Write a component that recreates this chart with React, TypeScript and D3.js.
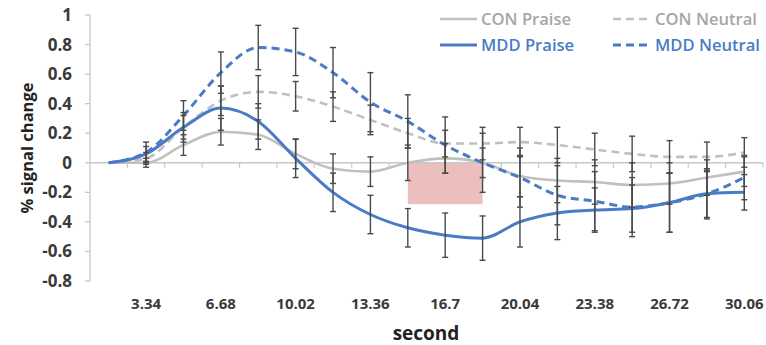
import { useEffect } from 'react';
import * as d3 from 'd3';

// ─── Data ───────────────────────────────────────────────────

const seconds = [1.67, 3.34, 5.01, 6.68, 8.35, 10.02, 11.69, 13.36, 15.03, 16.7, 18.37, 20.04, 21.71, 23.38, 25.05, 26.72, 28.39, 30.06];
const tickLabels = ['3.34', '6.68', '10.02', '13.36', '16.7', '20.04', '23.38', '26.72', '30.06'];
const yTicks = [1, 0.8, 0.6, 0.4, 0.2, 0, -0.2, -0.4, -0.6, -0.8];

const conPraise = [0, 0.0, 0.12, 0.21, 0.19, 0.06, -0.04, -0.06, 0.0, 0.03, 0.0, -0.09, -0.12, -0.13, -0.15, -0.14, -0.1, -0.06];
const conPraiseErr = [0, 0.03, 0.07, 0.09, 0.1, 0.1, 0.1, 0.1, 0.12, 0.1, 0.1, 0.14, 0.15, 0.15, 0.15, 0.14, 0.12, 0.1];

const conNeutral = [0, 0.03, 0.24, 0.42, 0.48, 0.45, 0.38, 0.29, 0.2, 0.13, 0.13, 0.14, 0.12, 0.09, 0.06, 0.04, 0.04, 0.07];
const conNeutralErr = [0, 0.04, 0.08, 0.1, 0.11, 0.1, 0.1, 0.1, 0.1, 0.09, 0.11, 0.1, 0.12, 0.11, 0.12, 0.11, 0.1, 0.1];

const mddPraise = [0, 0.06, 0.24, 0.37, 0.28, 0.03, -0.2, -0.35, -0.44, -0.49, -0.51, -0.4, -0.34, -0.32, -0.31, -0.27, -0.21, -0.2];
const mddPraiseErr = [0, 0.05, 0.1, 0.15, 0.12, 0.13, 0.13, 0.13, 0.13, 0.15, 0.15, 0.17, 0.18, 0.15, 0.16, 0.2, 0.16, 0.12];

const mddNeutral = [0, 0.07, 0.32, 0.61, 0.78, 0.75, 0.61, 0.41, 0.28, 0.12, 0.0, -0.1, -0.22, -0.26, -0.3, -0.27, -0.21, -0.1];
const mddNeutralErr = [0, 0.07, 0.1, 0.14, 0.15, 0.16, 0.17, 0.2, 0.18, 0.19, 0.2, 0.2, 0.2, 0.2, 0.2, 0.2, 0.17, 0.15];

// highlighted window (category range + value range)
const shadeFrom = 15.03;
const shadeTo = 18.37;
const shadeLow = -0.28;

// ─── Style ──────────────────────────────────────────────────

const GRAY = '#c0c0c0';
const BLUE = '#4a7cc6';
const ERR = '#4a4a4a';
const FONT = '"Open Sans", "DejaVu Sans", sans-serif';

const series = [
  { name: 'CON Praise', values: conPraise, err: conPraiseErr, color: GRAY, dash: null, text: '#a6a6a6', width: 2.6 },
  { name: 'CON Neutral', values: conNeutral, err: conNeutralErr, color: GRAY, dash: '8 5', text: '#a6a6a6', width: 2.6 },
  { name: 'MDD Praise', values: mddPraise, err: mddPraiseErr, color: BLUE, dash: null, text: BLUE, width: 3 },
  { name: 'MDD Neutral', values: mddNeutral, err: mddNeutralErr, color: BLUE, dash: '8 5', text: BLUE, width: 3 },
];

export default function App() {
  useEffect(() => {
    document.body.style.margin = '0';
  }, []);

  const W = 766;
  const H = 345;

  const x = d3.scaleBand<number>().domain(seconds).range([90, 763]);
  const y = d3.scaleLinear().domain([-0.8, 1]).range([281, 15]);
  const cx = (s: number) => (x(s) ?? 0) + x.bandwidth() / 2;

  const line = d3.line<number>()
    .x((_, i) => cx(seconds[i]))
    .y((d) => y(d))
    .curve(d3.curveMonotoneX);

  const boundaries = seconds.map((s) => (x(s) ?? 0) + x.bandwidth());

  return (
    <svg width={W} height={H} style={{ display: 'block', background: '#fff' }} fontFamily={FONT}>
      {/* shaded window */}
      <rect
        x={cx(shadeFrom)}
        y={y(0)}
        width={cx(shadeTo) - cx(shadeFrom)}
        height={y(shadeLow) - y(0)}
        fill="#e9b3b3"
        opacity={0.85}
      />

      {/* y axis */}
      <line x1={90} x2={90} y1={y(1)} y2={y(-0.8)} stroke="#c8c8c8" strokeWidth={1.3} />
      {yTicks.map((t) => (
        <g key={t}>
          <line x1={85} x2={90} y1={y(t)} y2={y(t)} stroke="#c8c8c8" strokeWidth={1.3} />
          <text x={72} y={y(t)} dy="0.35em" textAnchor="end" fontSize={17} fontWeight={700} fill="#3a3a3a">
            {t === 0 || t === 1 ? String(t) : t.toFixed(1)}
          </text>
        </g>
      ))}

      {/* x axis along zero */}
      <line x1={90} x2={763} y1={y(0)} y2={y(0)} stroke="#c8c8c8" strokeWidth={1.5} />
      {boundaries.map((b, i) => (
        <line key={i} x1={b} x2={b} y1={y(0)} y2={y(0) + 5} stroke="#c8c8c8" strokeWidth={1.2} />
      ))}
      {tickLabels.map((l) => (
        <text key={l} x={cx(+l)} y={309} textAnchor="middle" fontSize={15} fontWeight={700} fill="#3a3a3a">
          {l}
        </text>
      ))}

      {/* lines */}
      {series.map((s) => (
        <path
          key={s.name}
          d={line(s.values) ?? ''}
          fill="none"
          stroke={s.color}
          strokeWidth={s.width}
          strokeDasharray={s.dash ?? undefined}
        />
      ))}

      {/* error bars */}
      {series.map((s) => (
        <g key={s.name + '-err'} stroke={ERR} strokeWidth={1.4}>
          {s.values.map((v, i) => {
            const e = s.err[i];
            if (!e) return null;
            const px = cx(seconds[i]);
            const top = y(v + e);
            const bot = y(v - e);
            return (
              <g key={i}>
                <line x1={px} x2={px} y1={top} y2={bot} />
                <line x1={px - 3} x2={px + 3} y1={top} y2={top} />
                <line x1={px - 3} x2={px + 3} y1={bot} y2={bot} />
              </g>
            );
          })}
        </g>
      ))}

      {/* legend */}
      {series.map((s, i) => {
        const col = i % 2;
        const row = Math.floor(i / 2);
        const lx = col === 0 ? 440 : 613;
        const ly = row === 0 ? 19 : 45;
        const tx = col === 0 ? 481 : 655;
        return (
          <g key={s.name + '-leg'}>
            <line
              x1={lx}
              x2={lx + (col === 0 ? 37 : 34)}
              y1={ly}
              y2={ly}
              stroke={s.color}
              strokeWidth={s.width}
              strokeDasharray={s.dash ?? undefined}
            />
            <text x={tx} y={ly} dy="0.35em" fontSize={16.6} fontWeight={600} fill={s.text}>
              {s.name}
            </text>
          </g>
        );
      })}

      {/* axis titles */}
      <text
        transform={`translate(27,${148}) rotate(-90)`}
        textAnchor="middle"
        dy="0.35em"
        fontSize={16.5}
        fontWeight={700}
        fill="#222"
      >
        % signal change
      </text>
      <text x={426} y={340} textAnchor="middle" fontSize={19} fontWeight={700} fill="#222">
        second
      </text>
    </svg>
  );
}
